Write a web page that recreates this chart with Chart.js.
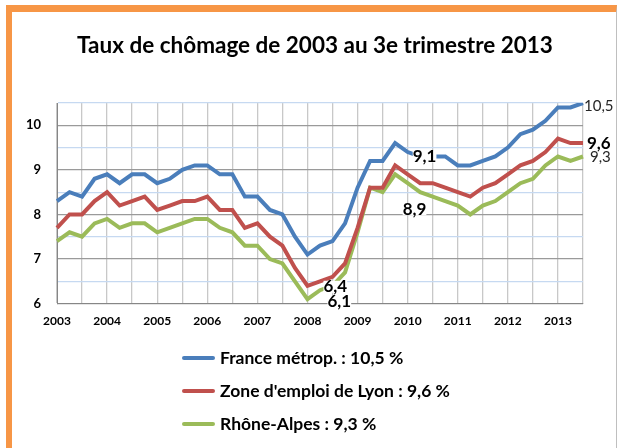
<!DOCTYPE html>
<html>
<head>
<meta charset="utf-8">
<script src="https://cdn.jsdelivr.net/npm/chart.js@4"></script>
<style>
  html, body { margin: 0; padding: 0; background: #fff; }
  #frame {
    position: absolute; left: 6px; top: 5px; width: 604px; height: 460px;
    border-top: 7px solid #f79646; border-left: 6px solid #f79646;
    border-right: 1px solid #bfbfbf; background: #fff;
  }
  #wrap { position: absolute; left: 0; top: 0; width: 618px; height: 448px; }
  #title {
    position: absolute; left: 15px; width: 600px; top: 30px; text-align: center;
    font: bold 22.5px Lato, "Open Sans", sans-serif; color: #000; line-height: 30px;
  }
  #legend {
    position: absolute; left: 182px; top: 341px;
    font: bold 17.5px Lato, "Open Sans", sans-serif; color: #000;
  }
  .item { display: flex; align-items: center; height: 33px; }
  .swatch { width: 33px; height: 4px; margin-right: 5px; border-radius: 2px; }
</style>
</head>
<body>
<div id="frame"></div>
<div id="wrap"><canvas id="c" width="618" height="448"></canvas></div>
<div id="title"></div>
<div id="legend"></div>
<script>
'use strict';

/* ── Data (quarterly, 2003 T1 → 2013 T3) ───────────────────── */
const chartTitle = 'Taux de chômage de 2003 au 3e trimestre 2013';
const years = ['2003','2004','2005','2006','2007','2008','2009','2010','2011','2012','2013'];

const france = [8.3, 8.5, 8.4, 8.8, 8.9, 8.7, 8.9, 8.9, 8.7, 8.8, 9.0, 9.1,
                9.1, 8.9, 8.9, 8.4, 8.4, 8.1, 8.0, 7.5, 7.1, 7.3, 7.4, 7.8,
                8.6, 9.2, 9.2, 9.6, 9.4, 9.3, 9.3, 9.3, 9.1, 9.1, 9.2, 9.3,
                9.5, 9.8, 9.9, 10.1, 10.4, 10.4, 10.5];
const lyon   = [7.7, 8.0, 8.0, 8.3, 8.5, 8.2, 8.3, 8.4, 8.1, 8.2, 8.3, 8.3,
                8.4, 8.1, 8.1, 7.7, 7.8, 7.5, 7.3, 6.8, 6.4, 6.5, 6.6, 6.9,
                7.7, 8.6, 8.6, 9.1, 8.9, 8.7, 8.7, 8.6, 8.5, 8.4, 8.6, 8.7,
                8.9, 9.1, 9.2, 9.4, 9.7, 9.6, 9.6];
const rhone  = [7.4, 7.6, 7.5, 7.8, 7.9, 7.7, 7.8, 7.8, 7.6, 7.7, 7.8, 7.9,
                7.9, 7.7, 7.6, 7.3, 7.3, 7.0, 6.9, 6.5, 6.1, 6.3, 6.4, 6.7,
                7.6, 8.6, 8.5, 8.9, 8.7, 8.5, 8.4, 8.3, 8.2, 8.0, 8.2, 8.3,
                8.5, 8.7, 8.8, 9.1, 9.3, 9.2, 9.3];

const seriesNames  = ['France métrop. : 10,5 %', "Zone d'emploi de Lyon : 9,6 %", 'Rhône-Alpes : 9,3 %'];
const seriesColors = ['#4a7ebb', '#c0504d', '#9bbb59'];

const yTicks = [6, 7, 8, 9, 10];

// Point notes: [series, point index, text, bold]
const notes = [
  [0, 42, '10,5', false],
  [1, 42, '9,6',  true],
  [2, 42, '9,3',  false],
  [1, 20, '6,4',  true],
  [2, 20, '6,1',  true],
  [0, 30, '9,1',  true],
  [2, 28, '8,9',  true],
];

/* ── Derived ───────────────────────────────────────────────── */
const labels = france.map((_, i) => (i % 4 === 0 ? years[i / 4] : ''));
const FONT = 'Lato, "Open Sans", sans-serif';

// Offsets (px) for each note relative to its point: dx, dy, white backing
const noteOffsets = [
  [1, 3, false], [4, 0, false], [7, 1, false],
  [16, 1, true], [20, 2, true], [-20, 0, true], [-5, 26, true],
];

const notePlugin = {
  id: 'notes',
  afterDatasetsDraw(ch) {
    const c = ch.ctx;
    c.save();
    c.textBaseline = 'middle';
    c.textAlign = 'left';
    notes.forEach(([s, i, txt, bold], k) => {
      const pt = ch.getDatasetMeta(s).data[i];
      if (!pt) return;
      const [dx, dy, back] = noteOffsets[k];
      c.font = (bold ? 'bold 17px ' : '15px ') + FONT;
      const x = pt.x + dx, y = pt.y + dy;
      if (back) {
        const w = c.measureText(txt).width;
        c.fillStyle = '#fff';
        c.fillRect(x, y - 6, w, 12);
      }
      c.fillStyle = bold ? '#000' : '#262626';
      c.fillText(txt, x, y);
    });
    c.restore();
  }
};

const datasets = [france, lyon, rhone].map((d, k) => ({
  label: seriesNames[k],
  data: d,
  borderColor: seriesColors[k],
  backgroundColor: seriesColors[k],
  borderWidth: 4,
  pointRadius: 0,
  tension: 0,
  fill: false,
}));

document.getElementById('title').textContent = chartTitle;

new Chart(document.getElementById('c'), {
  type: 'line',
  data: { labels, datasets },
  plugins: [notePlugin],
  options: {
    responsive: false,
    animation: false,
    layout: { padding: { left: 20, right: 35, top: 103, bottom: 110 } },
    plugins: {
      legend: { display: false },
      tooltip: { enabled: false },
    },
    scales: {
      x: {
        offset: false,
        border: { color: '#868686', width: 1 },
        grid: {
          color: ctx => (ctx.index % 2 === 0 ? '#c8c8c8' : 'transparent'),
          lineWidth: 1.3,
          drawTicks: false,
        },
        ticks: {
          autoSkip: false, maxRotation: 0, padding: 10,
          color: '#000',
          font: { family: FONT, size: 12, weight: 'bold' },
        },
      },
      y: {
        min: 6, max: 10.5,
        afterFit: s => { s.width = 37; },
        border: { color: '#868686', width: 1 },
        grid: {
          color: ctx => (yTicks.includes(ctx.tick.value) ? '#9a9a9a' : '#c6d9f1'),
          lineWidth: 1.3,
          drawTicks: false,
        },
        ticks: {
          stepSize: 0.5, padding: 16,
          color: '#000',
          font: { family: FONT, size: 13, weight: 'bold' },
          callback: v => (yTicks.includes(v) ? String(v) : ''),
        },
      },
    },
  },
});

/* ── Legend (vertical list) ────────────────────────────────── */
const leg = document.getElementById('legend');
seriesNames.forEach((name, k) => {
  const row = document.createElement('div');
  row.className = 'item';
  row.innerHTML = `<span class="swatch" style="background:${seriesColors[k]}"></span><span>${name}</span>`;
  leg.appendChild(row);
});
</script>
</body>
</html>
